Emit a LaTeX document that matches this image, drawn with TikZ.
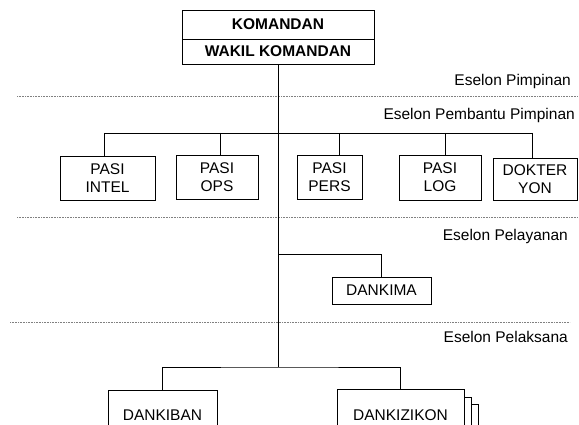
\documentclass[tikz,border=0pt]{standalone}
\usepackage{fontspec}
\setmainfont{Liberation Sans}
\begin{document}
\begin{tikzpicture}[x=1pt,y=-1pt,
  txt/.style={font=\fontsize{15.5}{18}\selectfont},
  box/.style={txt, draw, fill=white, line width=0.8pt, inner sep=0pt, align=center},
  bbox/.style={box, font=\fontsize{15.5}{18}\selectfont\bfseries},
  lbl/.style={txt, anchor=east, inner sep=0pt},
  sep/.style={gray, line width=0.7pt, dash pattern=on 0.7pt off 0.9pt},
  conn/.style={line width=0.8pt}]
\clip (0,0) rectangle (579,425);
\fill[white] (0,0) rectangle (579,425);

% separators
\draw[sep] (17,96) -- (578,96);
\draw[sep] (17,217) -- (578,217);
\draw[sep] (10,322) -- (570,322);

% echelon labels
\node[lbl] (e1) at (571,81) {Eselon Pimpinan};
\node[lbl] (e2) at (575,115) {Eselon Pembantu Pimpinan};
\node[lbl] (e3) at (568,236) {Eselon Pelayanan};
\node[lbl] (e4) at (568,337) {Eselon Pelaksana};

% top box
\node[bbox, minimum width=192pt, minimum height=29pt] (kom) at (278,24.5) {KOMANDAN};
\node[bbox, minimum width=192pt, minimum height=25pt] (wakil) at (278,51.5) {WAKIL KOMANDAN};

% staff boxes
\node[box, minimum width=95pt, minimum height=44pt] (intel) at (107.5,178) {PASI\\INTEL};
\node[box, minimum width=82pt, minimum height=44pt] (ops) at (217,177) {PASI\\OPS};
\node[box, minimum width=65pt, minimum height=44pt] (pers) at (329.5,177) {PASI\\PERS};
\node[box, minimum width=82pt, minimum height=45pt] (log) at (440,177.5) {PASI\\LOG};
\node[box, minimum width=84pt, minimum height=42pt] (dok) at (535,179) {DOKTER\\YON};

% service
\node[box, minimum width=99pt, minimum height=27pt] (dankima) at (381.5,290.5) {DANKIMA};

% executive
\node[box, minimum width=109pt, minimum height=50pt] (dankiban) at (162.5,415) {DANKIBAN};
\draw[fill=white, line width=0.8pt] (340,404) rectangle (478,450);
\draw[fill=white, line width=0.8pt] (340,397) rectangle (471,450);
\node[box, minimum width=127pt, minimum height=52pt] (dankizikon) at (400.5,415) {DANKIZIKON};

% connectors
\coordinate (trunk) at (278,367);
\draw[conn] (wakil.south) -- (trunk);

\coordinate (bi) at (104,133);
\coordinate (bo) at (220,133);
\coordinate (bp) at (339,133);
\coordinate (bl) at (445,133);
\coordinate (bd) at (532,133);
\draw[conn] (bi) -- (bd);
\draw[conn] (bi) -- (bi |- intel.north);
\draw[conn] (bo) -- (bo |- ops.north);
\draw[conn] (bp) -- (bp |- pers.north);
\draw[conn] (bl) -- (bl |- log.north);
\draw[conn] (bd) -- (bd |- dok.north);

\coordinate (sv) at (278,254);
\draw[conn] (sv) -| (dankima.north);

\draw[conn] (dankiban.north) |- (trunk) -| (dankizikon.north);
\end{tikzpicture}
\end{document}
